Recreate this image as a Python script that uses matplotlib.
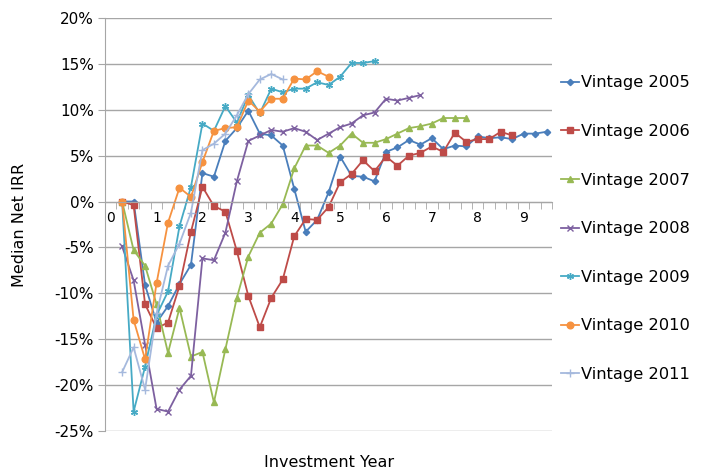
import numpy as np
import matplotlib
matplotlib.use("Agg")
import matplotlib.pyplot as plt

# Median net IRR (%) by quarter since vintage start (first point at year 0.25)
v2005 = [0, 0, -9.1, -13.2, -11.4, -9.0, -6.9, 3.1, 2.7, 6.6, 8.0, 9.9, 7.4, 7.2, 6.1,
         1.4, -3.3, -2.0, 1.0, 4.9, 2.8, 2.7, 2.2, 5.4, 5.9, 6.7, 6.2, 6.9, 5.7, 6.1,
         6.0, 7.1, 6.9, 7.0, 6.8, 7.4, 7.4, 7.6]
v2006 = [0, -0.4, -11.2, -13.8, -13.2, -9.2, -3.3, 1.6, -0.5, -1.1, -5.4, -10.3, -13.7,
         -10.5, -8.5, -3.8, -1.9, -2.0, -0.6, 2.1, 3.0, 4.5, 3.3, 4.9, 3.9, 5.0, 5.3,
         6.0, 5.4, 7.5, 6.5, 6.8, 6.8, 7.6, 7.2]
v2007 = [0, -5.3, -7.0, -11.2, -16.5, -11.6, -16.9, -16.4, -21.9, -16.1, -10.5, -6.0,
         -3.4, -2.4, -0.3, 3.6, 6.1, 6.1, 5.3, 6.1, 7.4, 6.4, 6.4, 6.8, 7.4, 8.0, 8.2,
         8.5, 9.1, 9.1, 9.1]
v2008 = [-4.9, -8.6, -15.6, -22.6, -22.9, -20.5, -19.0, -6.2, -6.4, -3.4, 2.2, 6.6, 7.2,
         7.8, 7.6, 8.0, 7.6, 6.7, 7.4, 8.1, 8.5, 9.4, 9.7, 11.2, 11.0, 11.3, 11.6]
v2009 = [0, -22.9, -18.0, -12.4, -9.8, -2.7, 1.6, 8.5, 7.7, 10.4, 8.6, 11.6, 9.6, 12.3,
         11.9, 12.3, 12.3, 13.0, 12.7, 13.6, 15.1, 15.1, 15.3]
v2010 = [0, -12.9, -17.2, -8.9, -2.3, 1.5, 0.5, 4.3, 7.7, 8.0, 8.1, 11.0, 9.8, 11.2,
         11.2, 13.4, 13.3, 14.2, 13.6]
v2011 = [-18.6, -15.9, -20.5, -12.2, -7.0, -4.6, -1.2, 5.6, 6.3, 7.4, 9.4, 11.7, 13.3,
         13.9, 13.3]

labels = ["Vintage 2005", "Vintage 2006", "Vintage 2007", "Vintage 2008",
          "Vintage 2009", "Vintage 2010", "Vintage 2011"]
series = [v2005, v2006, v2007, v2008, v2009, v2010, v2011]
colors = ["#4A7EBB", "#BE4B48", "#98B954", "#7D60A0", "#46AAC5", "#F69240", "#A5B9DD"]
markers = ["D", "s", "^", "x", (6, 2, 0), "o", "+"]
msizes = [3.2, 4.6, 4.8, 4.5, 5, 4.8, 6]

plt.rcParams['font.family'] = ['DejaVu Sans']

fig = plt.figure(figsize=(7.09, 4.74), dpi=100)
ax = fig.add_axes([0.148, 0.091, 0.631, 0.871])

for vals, lab, c, m, ms in zip(series, labels, colors, markers, msizes):
    x = 0.25 * np.arange(1, len(vals) + 1)
    ax.plot(x, vals, color=c, lw=1.3, marker=m, markersize=ms,
            markeredgewidth=1.0, label=lab)

ax.set_xlim(-0.125, 9.625)
ax.set_ylim(-25, 20)
yt = np.arange(-25, 21, 5)
ax.set_yticks(yt)
ax.set_yticklabels([f"{v}%" for v in yt], fontsize=11)
ax.yaxis.grid(True, color="#A6A6A6", lw=1)
ax.set_axisbelow(True)

ax.set_xticks(np.arange(0, 10))
ax.set_xticklabels([str(i) for i in range(10)], fontsize=11.5)
ax.set_xticks(np.arange(-0.125, 9.7, 0.25), minor=True)
ax.tick_params(axis="x", which="major", length=0, pad=7)
ax.tick_params(axis="x", which="minor", length=5, color="#A6A6A6", direction="out")
ax.tick_params(axis="y", length=5, color="#A6A6A6", pad=3)

ax.spines["top"].set_visible(False)
ax.spines["right"].set_visible(False)
ax.spines["bottom"].set_position(("data", 0))
ax.spines["bottom"].set_color("#A6A6A6")
ax.spines["left"].set_color("#A6A6A6")

ax.set_ylabel("Median Net IRR", fontsize=11.5, labelpad=20)
fig.text(0.464, 0.025, "Investment Year", fontsize=11.5, ha="center", va="center")

ax.legend(loc="upper left", bbox_to_anchor=(1.005, 0.877), frameon=False,
          fontsize=11.7, handlelength=1.1, handletextpad=0.15, labelspacing=2.07,
          borderaxespad=0)

fig.savefig("out.png", dpi=100)
